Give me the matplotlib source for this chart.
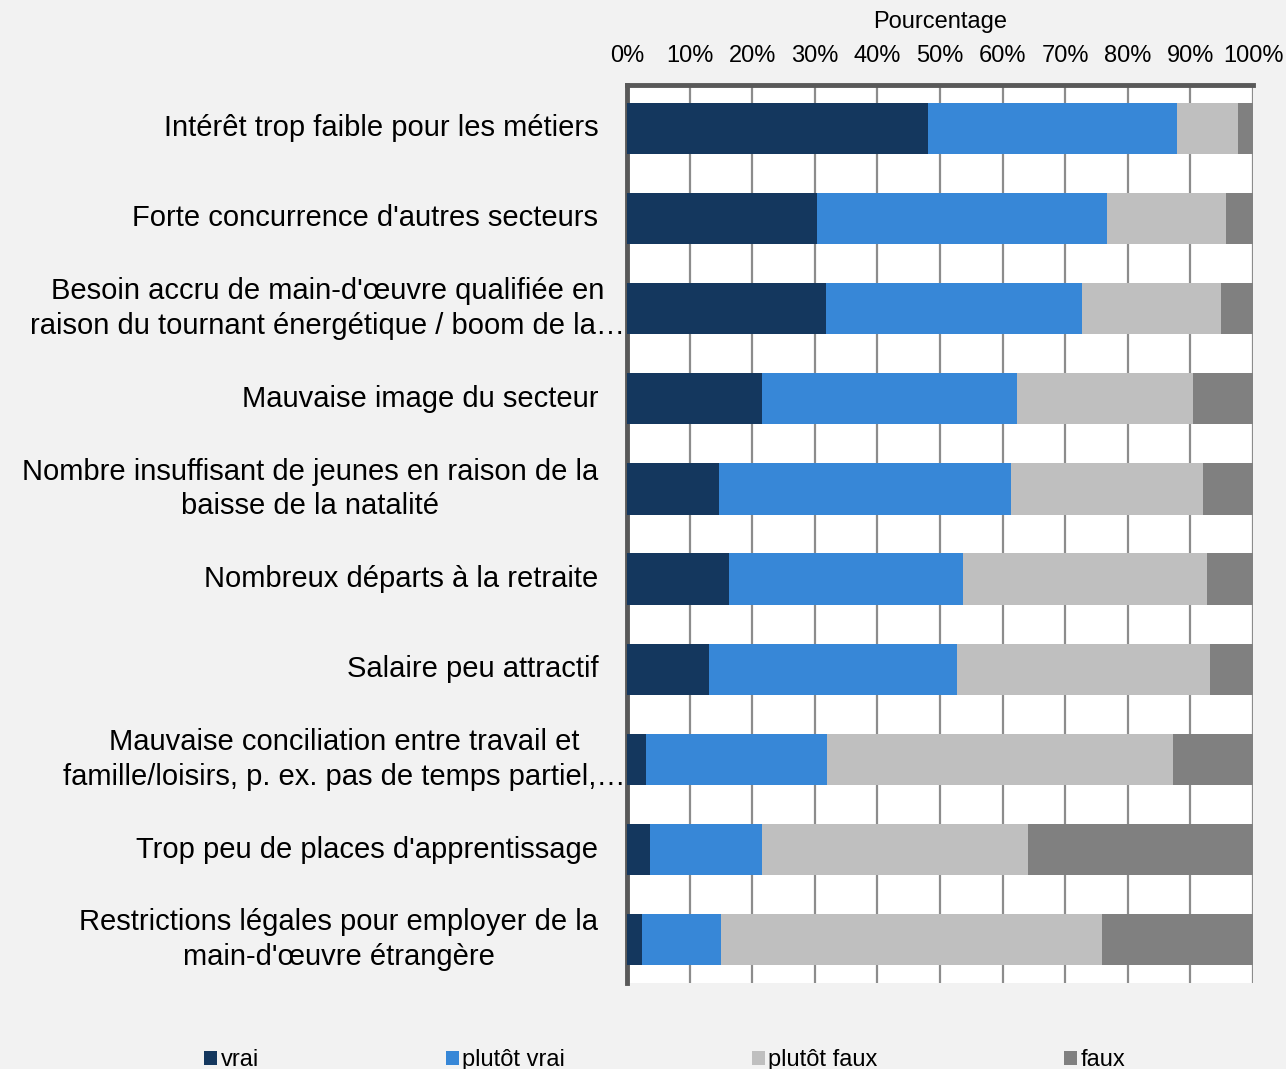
import matplotlib
matplotlib.use("Agg")
import matplotlib.pyplot as plt
import matplotlib.transforms as mtransforms
from matplotlib.patches import Patch
import numpy as np

plt.rcParams['font.family'] = ['Liberation Sans', 'DejaVu Sans']

# categories, top to bottom
categories = [
    "Intérêt trop faible pour les métiers",
    "Forte concurrence d'autres secteurs",
    "Besoin accru de main-d'œuvre qualifiée en\nraison du tournant énergétique / boom de la…",
    "Mauvaise image du secteur",
    "Nombre insuffisant de jeunes en raison de la\nbaisse de la natalité",
    "Nombreux départs à la retraite",
    "Salaire peu attractif",
    "Mauvaise conciliation entre travail et\nfamille/loisirs, p. ex. pas de temps partiel,…",
    "Trop peu de places d'apprentissage",
    "Restrictions légales pour employer de la\nmain-d'œuvre étrangère",
]
truncated = [False, False, True, False, False, False, False, True, False, False]

# shares in %
vrai = [48.1, 30.4, 31.8, 21.6, 14.7, 16.3, 13.1, 3.0, 3.7, 2.4]
plutot_vrai = [39.8, 46.3, 40.9, 40.7, 46.6, 37.4, 39.6, 28.9, 17.9, 12.6]
plutot_faux = [9.7, 19.0, 22.2, 28.1, 30.7, 39.0, 40.4, 55.3, 42.5, 60.9]
faux = [2.4, 4.3, 5.1, 9.6, 8.0, 7.3, 6.9, 12.8, 35.9, 24.1]

series = [("vrai", vrai, "#14375e"),
          ("plutôt vrai", plutot_vrai, "#3787d7"),
          ("plutôt faux", plutot_faux, "#bfbfbf"),
          ("faux", faux, "#808080")]

bg = "#f2f2f2"
fig = plt.figure(figsize=(12.86, 10.69), dpi=100, facecolor=bg)
ax = fig.add_axes([0.4876, 0.0805, 0.4868, 0.8400])
ax.set_facecolor("white")

y = np.arange(len(categories))
left = np.zeros(len(categories))
for name, vals, col in series:
    ax.barh(y, vals, left=left, height=0.57, color=col, label=name, zorder=3)
    left += np.array(vals)

ax.set_xlim(0, 100)
ax.set_ylim(len(categories) - 0.52, -0.48)
ax.set_xticks(np.arange(0, 101, 10))
ax.set_xticklabels([f"{t}%" for t in range(0, 101, 10)])
ax.xaxis.tick_top()
ax.xaxis.set_label_position("top")
ax.tick_params(axis="x", length=0, pad=13, labelsize=17)
ax.set_xlabel("Pourcentage", fontsize=17, labelpad=12)
ax.grid(axis="x", color="#8c8c8c", linewidth=1.6, zorder=1)

ax.set_yticks([])
for s in ["right", "bottom"]:
    ax.spines[s].set_visible(False)
for s in ["left", "top"]:
    ax.spines[s].set_color("#595959")
    ax.spines[s].set_linewidth(3.5)

trans = mtransforms.blended_transform_factory(ax.transAxes, ax.transData)
for i, lab in enumerate(categories):
    x = -0.003 if truncated[i] else -0.046
    ax.text(x, i, lab, transform=trans, ha="right", va="center",
            multialignment="center", fontsize=21, linespacing=1.3)

handles = [Patch(facecolor=c, label=n) for n, _, c in series]
fig.legend(handles=handles, loc="center", ncol=4, frameon=False,
           bbox_to_anchor=(0.517, 0.008), fontsize=17,
           handlelength=0.55, handleheight=0.55, handletextpad=0.15,
           columnspacing=7.9)

fig.savefig("out.png", dpi=100, facecolor=bg)
